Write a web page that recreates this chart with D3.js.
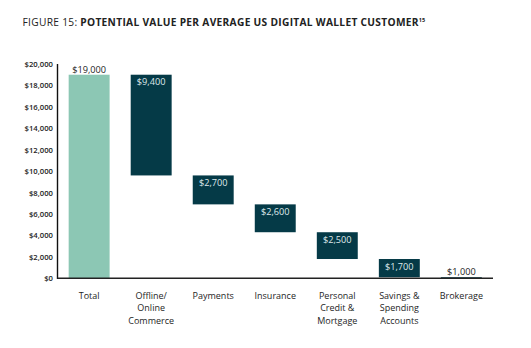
<!DOCTYPE html>
<html>
<head>
<meta charset="utf-8">
<script src="https://cdn.jsdelivr.net/npm/d3@7"></script>
<style>
  html, body { margin: 0; padding: 0; background: #fff; }
  svg { display: block; font-family: "Open Sans", "Lato", sans-serif; }
</style>
</head>
<body>
<svg id="chart" width="531" height="348"></svg>
<script>
// Waterfall: total value per customer, broken down by category
const categories = ["Total", "Offline/\nOnline\nCommerce", "Payments", "Insurance",
  "Personal\nCredit &\nMortgage", "Savings &\nSpending\nAccounts", "Brokerage"];
const values = [19000, 9400, 2700, 2600, 2500, 1700, 1000];
const yTicks = [0, 2000, 4000, 6000, 8000, 10000, 12000, 14000, 16000, 18000, 20000];

const totalColor = "#8cc7b4";
const stepColor = "#053a47";

const svg = d3.select("#chart");
const plotLeft = 57.5, plotRight = 493, plotTop = 64, plotBottom = 278.3;

const x = d3.scaleBand().domain(categories).range([plotLeft, plotRight])
  .paddingInner(0.34).paddingOuter(0.18);
const y = d3.scaleLinear().domain([0, 20000]).range([plotBottom, plotTop]);

// Bar extents: the total stands on zero, each component steps down from the running level
let level = values[0];
const bars = categories.map((c, i) => {
  if (i === 0) return { c, v: values[i], hi: values[i], lo: 0, total: true };
  const hi = level;
  const lo = Math.max(0, hi - values[i]);
  level = lo;
  return { c, v: values[i], hi, lo, total: false };
});

// Title
const title = svg.append("text").attr("x", 22.5).attr("y", 25.5)
  .attr("font-size", 10.2).attr("letter-spacing", 0.3).attr("fill", "#222");
title.append("tspan").attr("font-weight", 400).text("FIGURE 15: ");
title.append("tspan").attr("font-weight", 700).text("POTENTIAL VALUE PER AVERAGE US DIGITAL WALLET CUSTOMER");
title.append("tspan").attr("font-weight", 700).attr("font-size", 5.5).attr("letter-spacing", 0)
  .attr("dy", -3.5).text("15");

// Y axis
const yAxis = d3.axisLeft(y).tickValues(yTicks).tickSize(0).tickPadding(4.5)
  .tickFormat(d => "$" + d3.format(",")(d));
const gy = svg.append("g").attr("transform", `translate(${plotLeft},0)`).call(yAxis);
gy.select(".domain").remove();
gy.selectAll("text").attr("font-size", 7.7).attr("font-weight", 600)
  .attr("fill", "#1c1c1c").attr("font-family", "'Open Sans', sans-serif");

// Bars
svg.append("g").selectAll("rect").data(bars).join("rect")
  .attr("x", d => x(d.c))
  .attr("width", x.bandwidth())
  .attr("y", d => y(d.hi))
  .attr("height", d => Math.max(1.2, y(d.lo) - y(d.hi)))
  .attr("fill", d => d.total ? totalColor : stepColor);

// Axis lines
svg.append("line").attr("x1", plotLeft).attr("x2", plotLeft).attr("y1", plotTop).attr("y2", plotBottom + 0.7)
  .attr("stroke", "#111").attr("stroke-width", 1.4);
svg.append("line").attr("x1", plotLeft).attr("x2", plotRight).attr("y1", plotBottom).attr("y2", plotBottom)
  .attr("stroke", "#222").attr("stroke-width", 1.4);

// Value labels: above the total and very short bars, inside the other bars
const fmt = d => "$" + d3.format(",")(d);
const isShort = d => (y(d.lo) - y(d.hi)) < 12;
svg.append("g").selectAll("text").data(bars).join("text")
  .attr("x", d => x(d.c) + x.bandwidth() / 2)
  .attr("y", d => (d.total || isShort(d)) ? y(d.hi) - 2 : y(d.hi) + 10.5)
  .attr("text-anchor", "middle")
  .attr("font-size", 9.2)
  .attr("fill", d => (d.total || isShort(d)) ? "#1e1e1e" : "#dfe8ea")
  .text(d => fmt(d.v));

// Category labels (multi-line)
const xl = svg.append("g").selectAll("text").data(categories).join("text")
  .attr("x", d => x(d) + x.bandwidth() / 2)
  .attr("y", 298.5)
  .attr("text-anchor", "middle")
  .attr("font-size", 9)
  .attr("fill", "#1e1e1e");
xl.each(function (d) {
  const t = d3.select(this);
  d.split("\n").forEach((line, i) => {
    t.append("tspan").attr("x", x(d) + x.bandwidth() / 2).attr("dy", i === 0 ? 0 : 12.5).text(line);
  });
});
</script>
</body>
</html>
